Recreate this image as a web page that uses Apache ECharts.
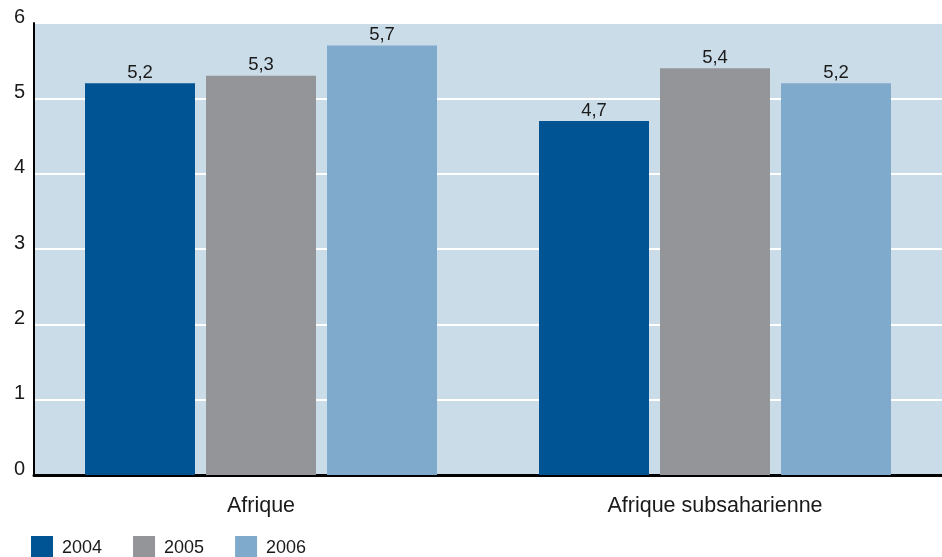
<!DOCTYPE html>
<html>
<head>
<meta charset="utf-8">
<script src="https://cdn.jsdelivr.net/npm/echarts@6/dist/echarts.min.js"></script>
<style>
  html, body { margin: 0; padding: 0; background: #ffffff; }
  #chart { width: 942px; height: 557px; }
</style>
</head>
<body>
<div id="chart"></div>
<script>
// Regions and yearly values
const categories = ['Afrique', 'Afrique subsaharienne'];
const years = ['2004', '2005', '2006'];
const values2004 = [5.2, 4.7];
const values2005 = [5.3, 5.4];
const values2006 = [5.7, 5.2];
const yTicks = [0, 1, 2, 3, 4, 5, 6];

const colors = ['#005494', '#949598', '#7faacb'];
const font = '"Liberation Sans", Arial, Helvetica, sans-serif';

const chart = echarts.init(document.getElementById('chart'));

function makeSeries(name, data, color) {
  return {
    name: name,
    type: 'bar',
    data: data,
    barWidth: 110,
    barGap: '10%',
    itemStyle: { color: color },
    label: {
      show: true,
      position: 'top',
      distance: 1,
      color: '#1a1a1a',
      fontFamily: font,
      fontSize: 18.5,
      formatter: p => String(p.value).replace('.', ',')
    }
  };
}

chart.setOption({
  animation: false,
  backgroundColor: '#ffffff',
  grid: {
    left: 34, right: 0, top: 23, bottom: 82,
    show: true, backgroundColor: '#cbdce9', borderWidth: 0
  },
  legend: {
    left: 31, bottom: -3, padding: 0,
    itemWidth: 22, itemHeight: 24, itemGap: 31,
    icon: 'rect',
    data: years,
    textStyle: { fontFamily: font, fontSize: 18, color: '#1a1a1a', padding: [6, 0, 0, 4] }
  },
  xAxis: {
    type: 'category',
    data: categories,
    axisLine: { show: true, lineStyle: { color: '#000', width: 3 } },
    axisTick: { show: false },
    axisLabel: { fontFamily: font, fontSize: 21.5, color: '#1a1a1a', margin: 20 }
  },
  yAxis: {
    type: 'value',
    min: yTicks[0], max: yTicks[yTicks.length - 1], interval: 1,
    axisLine: { show: true, lineStyle: { color: '#000', width: 2 } },
    axisTick: { show: false },
    axisLabel: {
      fontFamily: font, fontSize: 20, color: '#1a1a1a', margin: 9,
      verticalAlign: 'bottom', padding: [0, 0, -4, 0]
    },
    splitLine: { show: true, lineStyle: { color: '#ffffff', width: 2 } }
  },
  series: [
    makeSeries(years[0], values2004, colors[0]),
    makeSeries(years[1], values2005, colors[1]),
    makeSeries(years[2], values2006, colors[2])
  ]
});
</script>
</body>
</html>
